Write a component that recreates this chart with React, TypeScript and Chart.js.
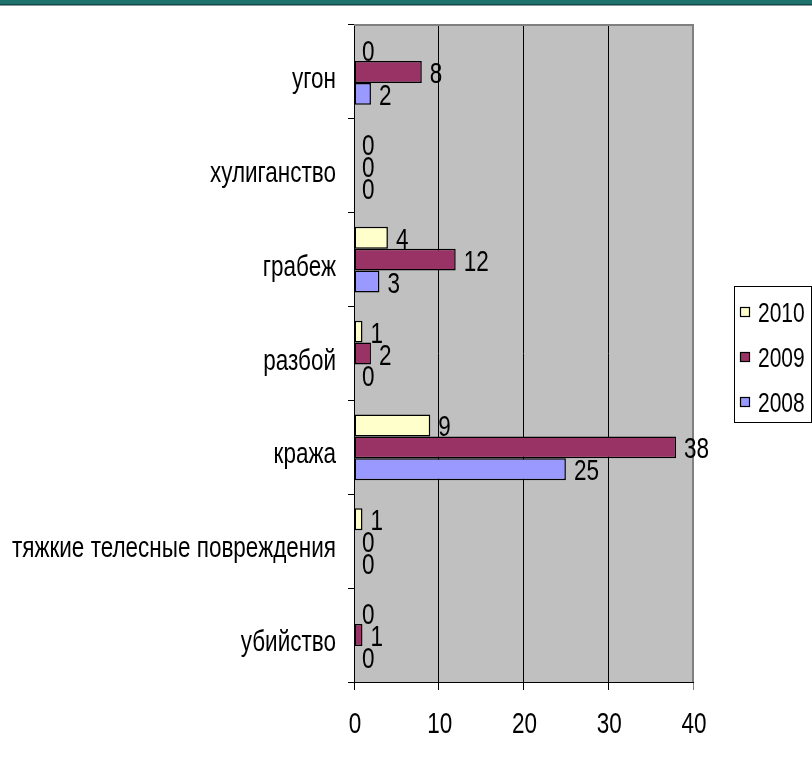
import React, { useEffect, useRef } from "react";
import { Chart, registerables } from "chart.js";

Chart.register(...registerables);

const categories = [
  "угон",
  "хулиганство",
  "грабеж",
  "разбой",
  "кража",
  "тяжкие телесные повреждения",
  "убийство",
];
const seriesNames = ["2010", "2009", "2008"];
const values2010 = [0, 0, 4, 1, 9, 1, 0];
const values2009 = [8, 0, 12, 2, 38, 0, 1];
const values2008 = [2, 0, 3, 0, 25, 0, 0];
const seriesColors = ["#FFFFCC", "#993366", "#9999FF"];
const xMin = 0;
const xMax = 40;
const xStep = 10;

const FONT = "'Liberation Sans', Arial, sans-serif";
const FONT_SIZE = 30;
const NARROW = 0.75;

function narrowText(ctx: any, text: string, x: number, y: number, align: string, size = FONT_SIZE) {
  ctx.save();
  ctx.font = `${size}px ${FONT}`;
  ctx.fillStyle = "#000";
  ctx.textAlign = align;
  ctx.textBaseline = "alphabetic";
  ctx.translate(x, y);
  ctx.scale(NARROW, 1);
  ctx.fillText(text, 0, 0);
  ctx.restore();
}

const plotBackground = {
  id: "plotBackground",
  beforeDraw(chart: any) {
    const { ctx, chartArea: a } = chart;
    ctx.save();
    ctx.fillStyle = "#C0C0C0";
    ctx.fillRect(a.left, a.top, a.right - a.left, a.bottom - a.top);
    ctx.restore();
  },
  beforeDatasetsDraw(chart: any) {
    const { ctx, chartArea: a } = chart;
    ctx.save();
    ctx.strokeStyle = "#808080";
    ctx.lineWidth = 2;
    ctx.beginPath();
    ctx.moveTo(a.left, a.top);
    ctx.lineTo(a.right, a.top);
    ctx.lineTo(a.right, a.bottom);
    ctx.stroke();
    ctx.restore();
  },
};

const narrowTickLabels = {
  id: "narrowTickLabels",
  afterDraw(chart: any) {
    const { ctx } = chart;
    const xs = chart.scales.x;
    const ys = chart.scales.y;
    xs.ticks.forEach((t: any, i: number) => {
      narrowText(ctx, String(t.value), xs.getPixelForTick(i) + 1, xs.bottom - 32, "center");
    });
    ys.ticks.forEach((t: any, i: number) => {
      const label = ys.getLabelForValue(t.value);
      narrowText(ctx, label, ys.right - 18, ys.getPixelForTick(i) + 16, "right");
    });
  },
};

const dataLabels = {
  id: "dataLabels",
  afterDatasetsDraw(chart: any) {
    const { ctx } = chart;
    chart.data.datasets.forEach((ds: any, di: number) => {
      const meta = chart.getDatasetMeta(di);
      meta.data.forEach((el: any, i: number) => {
        narrowText(ctx, String(ds.data[i]), el.x + 8, el.y + 11, "left");
      });
    });
  },
};

const boxLegend = {
  id: "boxLegend",
  afterDraw(chart: any) {
    const { ctx, chartArea: a } = chart;
    const ds = chart.data.datasets;
    const w = 77;
    const spacing = 45;
    const h = spacing * ds.length + 1;
    const left = a.right + 41;
    const top = Math.round((a.top + a.bottom) / 2 - h / 2);
    ctx.save();
    ctx.fillStyle = "#fff";
    ctx.fillRect(left, top, w, h);
    ctx.strokeStyle = "#000";
    ctx.lineWidth = 1;
    ctx.strokeRect(left + 0.5, top + 0.5, w, h);
    ds.forEach((d: any, i: number) => {
      const cy = top + 26 + i * spacing;
      ctx.fillStyle = d.backgroundColor;
      ctx.fillRect(left + 6, cy - 5, 9, 9);
      ctx.strokeStyle = "#000";
      ctx.lineWidth = 1.2;
      ctx.strokeRect(left + 6.5, cy - 4.5, 9, 9);
      narrowText(ctx, d.label, left + 24, cy + 10, "left", 28);
    });
    ctx.restore();
  },
};

export default function App() {
  const ref = useRef<HTMLCanvasElement>(null);

  useEffect(() => {
    if (!ref.current) return;
    const seriesValues = [values2010, values2009, values2008];
    const chart = new Chart(ref.current, {
      type: "bar",
      data: {
        labels: categories,
        datasets: seriesNames.map((name, i) => ({
          label: name,
          data: seriesValues[i],
          backgroundColor: seriesColors[i],
          borderColor: "#000",
          borderWidth: 1.5,
          borderSkipped: false,
          categoryPercentage: 0.7,
          barPercentage: 1.0,
        })),
      },
      options: {
        indexAxis: "y",
        animation: false,
        responsive: false,
        events: [],
        layout: { padding: { top: 25, right: 119, bottom: 0, left: 0 } },
        plugins: {
          legend: { display: false },
          tooltip: { enabled: false },
        },
        scales: {
          x: {
            type: "linear",
            min: xMin,
            max: xMax,
            ticks: {
              stepSize: xStep,
              display: false,
            },
            grid: {
              drawOnChartArea: true,
              drawTicks: true,
              tickLength: 8,
              color: (c: any) => (c.tick && c.tick.value === xMax ? "#808080" : "#000"),
              lineWidth: 1,
            },
            border: { display: true, color: "#000", width: 1 },
            afterFit: (scale: any) => {
              scale.height = 83;
            },
          },
          y: {
            type: "category",
            ticks: { display: false },
            grid: {
              drawOnChartArea: false,
              drawTicks: true,
              tickLength: 6,
              color: "#000",
              offset: true,
            },
            border: { display: true, color: "#000", width: 1 },
            afterFit: (scale: any) => {
              scale.width = 354;
            },
          },
        },
      },
      plugins: [plotBackground, dataLabels, narrowTickLabels, boxLegend],
    });
    return () => chart.destroy();
  }, []);

  return (
    <div style={{ position: "absolute", left: 0, top: 0, width: 812, height: 765, background: "#fff" }}>
      <canvas ref={ref} width={812} height={765} style={{ display: "block" }} />
      <div style={{ position: "absolute", left: 0, top: 0, width: 812, height: 4, background: "#1f736f" }} />
      <div style={{ position: "absolute", left: 0, top: 4, width: 812, height: 1, background: "#0e4a47" }} />
      <div style={{ position: "absolute", left: 0, top: 5, width: 812, height: 1, background: "#8a9a9a" }} />
    </div>
  );
}
